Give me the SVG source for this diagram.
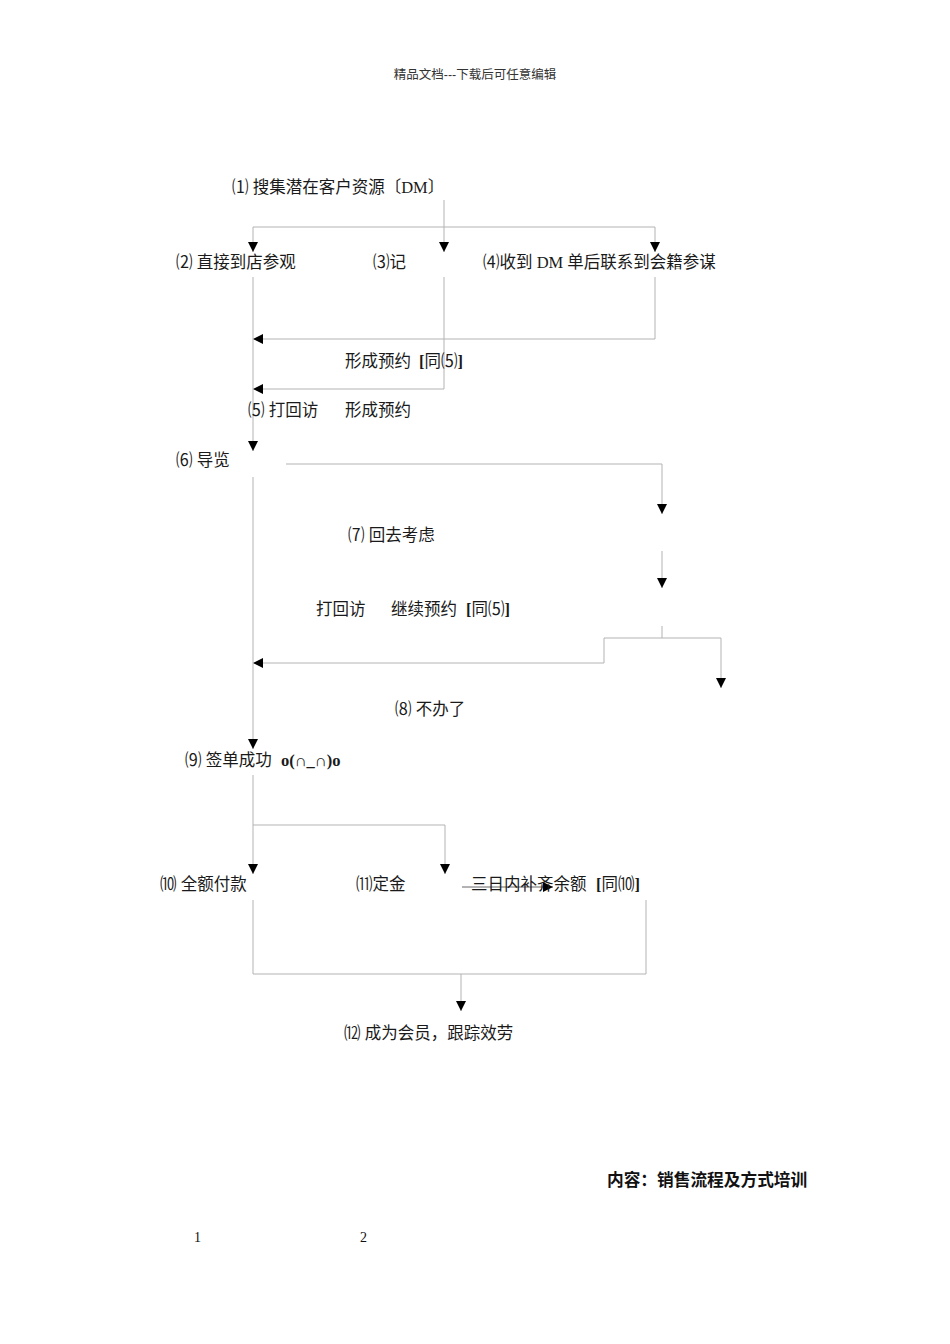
<svg xmlns="http://www.w3.org/2000/svg" width="950" height="1344" viewBox="0 0 950 1344">
<style>
.t{font-family:"Liberation Serif","Noto Sans CJK SC",serif;font-size:16.5px;fill:#1a1a1a}
.b{font-weight:bold}
.h{font-family:"Liberation Sans","Noto Sans CJK SC",sans-serif;font-size:12.5px;fill:#333}
.k{font-family:"Noto Sans CJK SC",sans-serif;font-size:16.7px;font-weight:bold;fill:#111}
.n{font-family:"Liberation Serif",serif;font-size:14px;fill:#111}
.c{fill:none;stroke:#b3b3b3;stroke-width:1}
</style>
<defs>
<marker id="ah" markerUnits="userSpaceOnUse" markerWidth="10" markerHeight="10" refX="10" refY="5" orient="auto">
<path d="M0,0 L10,5 L0,10 z" fill="#000"/>
</marker>
</defs>
<rect width="950" height="1344" fill="#fff"/>
<text class="h" x="475" y="79" text-anchor="middle">精品文档---下载后可任意编辑</text>

<g id="connectors">
<path class="c" d="M444,200 V252" marker-end="url(#ah)"/>
<path class="c" d="M444,227 H253 V252" marker-end="url(#ah)"/>
<path class="c" d="M444,227 H655 V252" marker-end="url(#ah)"/>
<path class="c" d="M655,277 V339 H253" marker-end="url(#ah)"/>
<path class="c" d="M444,277 V389 H253" marker-end="url(#ah)"/>
<path class="c" d="M253,277 V451" marker-end="url(#ah)"/>
<path class="c" d="M286,464 H662 V514" marker-end="url(#ah)"/>
<path class="c" d="M662,551 V588" marker-end="url(#ah)"/>
<path class="c" d="M662,626 V638"/>
<path class="c" d="M604,638 H721 V688" marker-end="url(#ah)"/>
<path class="c" d="M604,638 V663 H253" marker-end="url(#ah)"/>
<path class="c" d="M253,477 V749" marker-end="url(#ah)"/>
<path class="c" d="M253,775 V874" marker-end="url(#ah)"/>
<path class="c" d="M253,825 H445 V874" marker-end="url(#ah)"/>
<path d="M462,887 H553" stroke="#666" stroke-width="1" fill="none" marker-end="url(#ah)"/>
<path class="c" d="M253,900 V974 H646 V900"/>
<path class="c" d="M461,974 V1011" marker-end="url(#ah)"/>
</g>

<g id="n1"><text class="t" x="232" y="193">⑴ 搜集潜在客户资源〔DM〕</text></g>
<g id="n2"><text class="t" x="176" y="268">⑵ 直接到店参观</text></g>
<g id="n3"><text class="t" x="373" y="268">⑶记</text></g>
<g id="n4"><text class="t" x="483" y="268">⑷收到 DM 单后联系到会籍参谋</text></g>
<g id="l1"><text class="t" x="345" y="367">形成预约<tspan class="b" x="419">[</tspan>同⑸<tspan class="b">]</tspan></text></g>
<g id="n5"><text class="t" x="248" y="416">⑸ 打回访</text><text class="t" x="345" y="416">形成预约</text></g>
<g id="n6"><text class="t" x="176" y="466">⑹ 导览</text></g>
<g id="n7"><text class="t" x="348" y="541">⑺ 回去考虑</text></g>
<g id="l2"><text class="t" x="316" y="615">打回访</text><text class="t" x="391" y="615">继续预约<tspan class="b" x="466">[</tspan>同⑸<tspan class="b">]</tspan></text></g>
<g id="n8"><text class="t" x="395" y="715">⑻ 不办了</text></g>
<g id="n9"><text class="t" x="185" y="766">⑼ 签单成功<tspan class="b" x="281">o(∩_∩)o</tspan></text></g>
<g id="n10"><text class="t" x="160" y="890">⑽ 全额付款</text></g>
<g id="n11"><text class="t" x="356" y="890">⑾定金</text><text class="t" x="471" y="890">三日内补齐余额<tspan class="b" x="596">[</tspan>同⑽<tspan class="b">]</tspan></text></g>
<g id="n12"><text class="t" x="344" y="1039">⑿ 成为会员，跟踪效劳</text></g>
<text class="k" x="607" y="1186">内容：销售流程及方式培训</text>
<text class="n" x="194" y="1242">1</text>
<text class="n" x="360" y="1242">2</text>
</svg>
